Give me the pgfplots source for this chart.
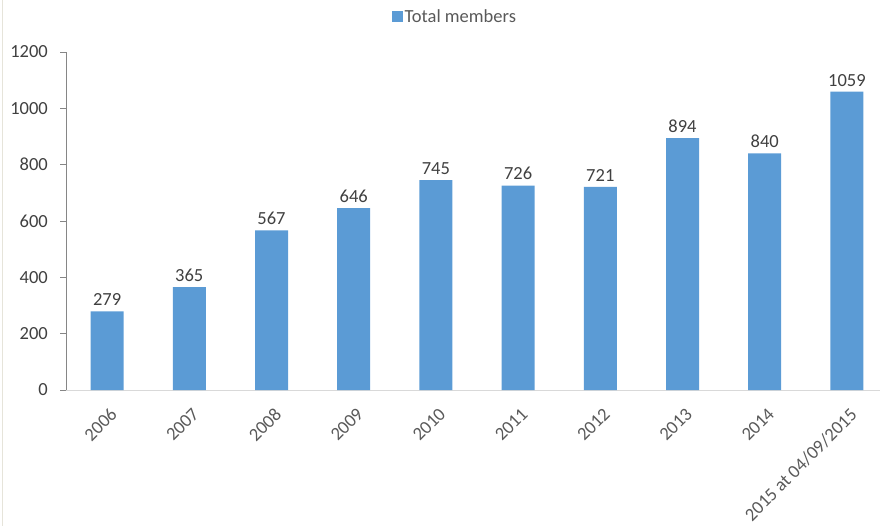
\documentclass[border=0pt]{standalone}
\usepackage{fontspec}
\setmainfont{Carlito}
\usepackage{pgfplots}
\pgfplotsset{compat=1.18}
\definecolor{barblue}{HTML}{5B9BD5}
\definecolor{txtdark}{HTML}{404040}
\definecolor{txtgray}{HTML}{595959}
\definecolor{axgray}{HTML}{868686}
\definecolor{axlight}{HTML}{D9D9D9}
\definecolor{framec}{HTML}{E6E4DA}
\begin{document}
\begin{tikzpicture}
\path[use as bounding box] (0pt,0pt) rectangle (880pt,-526pt);
\draw[framec,line width=1.2pt] (2.5pt,0pt) -- (2.5pt,-526pt);
\begin{axis}[
  at={(66pt,-390pt)}, anchor=south west,
  scale only axis, width=822pt, height=338pt,
  xmin=-0.5, xmax=9.5, ymin=0, ymax=1200,
  ybar, bar width=33pt,
  axis x line*=bottom, axis y line*=left,
  x axis line style={draw=axlight, line width=1pt, -},
  y axis line style={draw=axgray, line width=0.8pt, -},
  xtick=data,
  xticklabels={2006,2007,2008,2009,2010,2011,2012,2013,2014,2015 at 04/09/2015},
  xtick style={draw=none},
  ytick={0,200,...,1200},
  ytick style={draw=axgray, line width=0.8pt},
  tick align=outside, major tick length=6pt,
  /pgf/number format/assume math mode=true,
  /pgf/number format/1000 sep={},
  tick label style={font=\fontsize{18.5}{22}\selectfont},
  yticklabel style={text=txtdark, anchor=east, inner sep=0pt, xshift=-12pt},
  xticklabel style={text=txtgray, rotate=45, anchor=north east, inner sep=2pt, xshift=-4pt, yshift=-7pt},
  nodes near coords,
  nodes near coords style={font=\fontsize{18.5}{22}\selectfont, text=txtdark, yshift=2pt},
  legend style={at={(0.473,1.1036)}, anchor=center, draw=none, fill=none,
    font=\fontsize{18.5}{22}\selectfont, text=txtgray,
    legend cell align=left},
  legend image code/.code={\fill[barblue] (0pt,-5.5pt) rectangle (11pt,5.5pt);},
]
\addplot[fill=barblue, draw=none] coordinates {
(0,279) (1,365) (2,567) (3,646) (4,745) (5,726) (6,721) (7,894) (8,840) (9,1059)};
\addlegendentry{Total members}
\end{axis}
\end{tikzpicture}
\end{document}
